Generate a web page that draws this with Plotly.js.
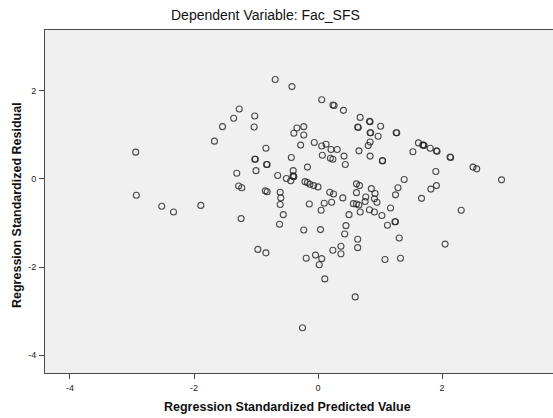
<!DOCTYPE html>
<html>
<head>
<meta charset="utf-8">
<script src="https://cdn.plot.ly/plotly-3.0.1.min.js"></script>
<style>
  html, body { margin: 0; padding: 0; background: #ffffff; }
  #chart { width: 553px; height: 418px; }
</style>
</head>
<body>
<div id="chart"></div>
<script>
// Scatterplot of standardized residuals against standardized predicted values
const predicted = [
  -2.94, -2.93, -2.52, -2.33, -1.89, -1.67, -1.54, -1.36, -1.27, -1.02,
  -1.03, -0.69, -0.42, 0.06, 0.24, 0.26, 0.41, 0.68, 0.83, 0.84,
  1.01, 0.64, 0.65, 0.84, 0.85, 0.97, 1.26, 1.27, 0.84, 0.81,
  0.66, 0.42, 0.44, 0.84, 1.04, 1.04, 1.53, 1.62, 1.70, 1.71,
  1.69, 1.81, 1.91, 1.92, 2.13, 2.14, 2.50, 2.56, 2.96, 1.90,
  1.39, 1.29, 1.25, 1.91, 1.82, 1.67, 2.31, 2.05, 1.31, 1.08,
  1.33, 1.17, 1.24, 1.25, 1.12, 1.03, 0.83, 0.91, 0.68, 0.50,
  0.45, 0.43, 0.64, 0.64, 0.37, 0.37, 0.24, 0.60, -0.25, 0.11,
  -0.19, -0.04, 0.06, 0.02, -0.97, -0.84, -0.23, 0.04, -0.62, -0.56,
  -1.24, -0.61, -0.60, -0.61, -0.85, -0.82, -1.28, -1.23, -1.31, -1.00,
  -0.65, -0.51, -0.44, -0.40, -0.39, -0.40, -0.40, -0.43, -0.21, -0.17,
  -0.13, -0.07, 0.00, -0.17, -0.14, 0.10, 0.22, 0.05, 0.19, 0.25,
  0.40, 0.20, 0.24, 0.07, 0.21, 0.31, 0.06, 0.13, -0.06, -0.28,
  -0.34, -0.23, -0.39, -0.23, -0.84, -1.02, -1.01, -0.83, -0.82, 0.62,
  0.67, 0.62, 0.77, 0.86, 0.92, 0.91, 0.76, 0.95, 0.57, 0.62,
  0.66
];
const residual = [
  0.61, -0.37, -0.62, -0.75, -0.60, 0.86, 1.19, 1.38, 1.59, 1.43,
  1.18, 2.26, 2.10, 1.80, 1.68, 1.67, 1.56, 1.40, 1.31, 1.30,
  1.20, 1.18, 1.17, 1.05, 1.05, 0.97, 1.05, 1.05, 0.84, 0.76,
  0.64, 0.52, 0.33, 0.52, 0.42, 0.41, 0.62, 0.82, 0.77, 0.76,
  0.77, 0.70, 0.64, 0.63, 0.50, 0.49, 0.27, 0.23, -0.02, 0.17,
  -0.01, -0.20, -0.36, -0.15, -0.23, -0.44, -0.71, -1.48, -1.34, -1.83,
  -1.80, -0.66, -0.97, -0.97, -1.05, -0.83, -0.70, -0.75, -0.75, -0.81,
  -1.06, -1.25, -1.37, -1.56, -1.53, -1.70, -1.62, -2.68, -3.38, -2.27,
  -1.80, -1.73, -1.81, -1.95, -1.60, -1.68, -1.16, -1.15, -1.03, -0.81,
  -0.90, -0.58, -0.43, -0.30, -0.27, -0.29, -0.16, -0.20, 0.13, 0.19,
  0.08, 0.01, -0.04, 0.06, 0.05, 0.07, 0.19, 0.49, -0.06, -0.08,
  -0.12, -0.15, -0.18, 0.27, -0.57, -0.55, -0.53, -0.71, -0.30, -0.34,
  -0.43, 0.47, 0.45, 0.54, 0.67, 0.67, 0.75, 0.79, 0.83, 0.77,
  1.16, 1.19, 1.04, 1.00, 0.70, 0.45, 0.45, 0.33, 0.33, -0.11,
  -0.15, -0.31, -0.41, -0.22, -0.33, -0.45, -0.51, -0.53, -0.56, -0.57,
  -0.59
];

const tickValues = [-4, -2, 0, 2];
const tickLabels = ["-4", "-2", "0", "2"];

const chartTitle = "Dependent Variable: Fac_SFS";
const xTitle = "Regression Standardized Predicted Value";
const yTitle = "Regression Standardized Residual";

const frameColor = "#4a4a4a";
const fontFamily = "Liberation Sans, Arial, sans-serif";

// plot frame geometry in pixels
const plotLeft = 45, plotTop = 30, plotWidth = 508, plotHeight = 343;

const trace = {
  type: "scatter",
  mode: "markers",
  x: predicted,
  y: residual,
  marker: {
    symbol: "circle-open",
    size: 6,
    color: "rgba(35,35,35,0.8)",
    line: { width: 1.1 }
  },
  hoverinfo: "x+y"
};

const axisBase = {
  showgrid: false,
  zeroline: false,
  showline: true,
  mirror: true,
  linecolor: frameColor,
  linewidth: 1,
  ticks: "outside",
  ticklen: 5,
  tickwidth: 1,
  tickcolor: frameColor,
  tickmode: "array",
  tickvals: tickValues,
  ticktext: tickLabels,
  tickfont: { family: fontFamily, size: 9, color: "#222" },
  fixedrange: true
};

const layout = {
  width: 553,
  height: 418,
  margin: { l: plotLeft, r: 553 - plotLeft - plotWidth, t: plotTop, b: 418 - plotTop - plotHeight, pad: 0 },
  paper_bgcolor: "#ffffff",
  plot_bgcolor: "#f0f0f0",
  showlegend: false,
  xaxis: Object.assign({}, axisBase, { range: [-4.403, 3.79], ticklabelstandoff: 1 }),
  yaxis: Object.assign({}, axisBase, { range: [-4.409, 3.386], ticklabelstandoff: 1 }),
  annotations: [
    {
      text: chartTitle,
      xref: "paper", yref: "paper",
      x: (265.5 - plotLeft) / plotWidth, y: 1,
      xanchor: "center", yanchor: "bottom", yshift: 5,
      showarrow: false,
      font: { family: fontFamily, size: 14, color: "#111" }
    },
    {
      text: "<b>" + xTitle + "</b>",
      xref: "paper", yref: "paper",
      x: (287.7 - plotLeft) / plotWidth, y: 0,
      xanchor: "center", yanchor: "middle", yshift: -34,
      showarrow: false,
      font: { family: fontFamily, size: 12.5, color: "#111" }
    },
    {
      text: "<b>" + yTitle + "</b>",
      xref: "paper", yref: "paper",
      x: 0, y: (plotTop + plotHeight - 205) / plotHeight,
      xanchor: "center", yanchor: "middle", xshift: -28,
      textangle: -90,
      showarrow: false,
      font: { family: fontFamily, size: 12.5, color: "#111" }
    }
  ]
};

Plotly.newPlot("chart", [trace], layout, { displayModeBar: false, staticPlot: true });
</script>
</body>
</html>
